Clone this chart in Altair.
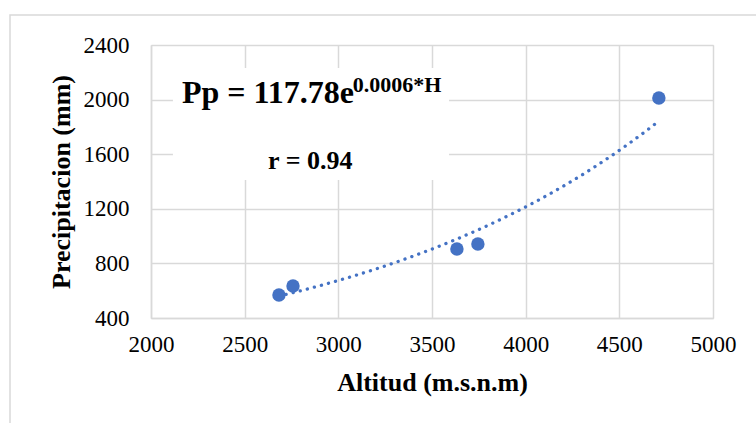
import altair as alt
import pandas as pd

# Data
altitud = [2683, 2758, 3633, 3745, 4711]
precip = [568, 634, 905, 942, 2012]

x_ticks = [2000, 2500, 3000, 3500, 4000, 4500, 5000]
y_ticks = [400, 800, 1200, 1600, 2000, 2400]

eq_main = ["Pp = 117.78e"]
eq_sup = ["0.0006*H"]
r_label = ["r = 0.94"]

df = pd.DataFrame({"h": altitud, "p": precip})

FONT = "Liberation Serif"
BLUE = "#4472C4"
GRID = "#d9d9d9"

xs = alt.Scale(domain=[2000, 5000], nice=False)
ys = alt.Scale(domain=[400, 2400], nice=False)

x_axis = alt.Axis(values=x_ticks, title="Altitud (m.s.n.m)", ticks=False, format="d",
                  labelFlush=False, labelOverlap=False,
                  labelFont=FONT, labelFontSize=23, labelColor="#000000",
                  labelPadding=15, domainColor=GRID, domainWidth=1.5,
                  gridColor=GRID, gridWidth=1.5,
                  titleFont=FONT, titleFontSize=26, titleFontWeight="bold",
                  titleColor="#000000", titleY=72, titleBaseline="alphabetic")
y_axis = alt.Axis(values=y_ticks, title="Precipitacion (mm)", ticks=False, format="d",
                  labelFlush=False, labelOverlap=False,
                  labelFont=FONT, labelFontSize=23, labelColor="#000000",
                  labelPadding=22, domainColor=GRID, domainWidth=1.5,
                  gridColor=GRID, gridWidth=1.5,
                  titleFont=FONT, titleFontSize=26, titleFontWeight="bold",
                  titleColor="#000000", titleX=-90, titleY=136.5,
                  titleBaseline="middle", titleAngle=-90)

base = alt.Chart(df)

# outer chart frame (decoration)
frame = alt.Chart(pd.DataFrame({"a": [0]})).mark_rect(
    filled=False, stroke=GRID, strokeWidth=1.5, clip=False
).encode(x=alt.value(-141), x2=alt.value(620), y=alt.value(-30), y2=alt.value(400))

points = base.mark_circle(size=180, opacity=1, color=BLUE).encode(
    x=alt.X("h:Q", scale=xs, axis=x_axis),
    y=alt.Y("p:Q", scale=ys, axis=y_axis),
)

trend = base.transform_calculate(lp="log(datum.p)").transform_regression(
    "h", "lp", method="poly", order=1
).transform_calculate(pp="exp(datum.lp)").mark_line(
    color=BLUE, strokeWidth=3.3, strokeDash=[0.1, 7.2], strokeCap="round"
).encode(x=alt.X("h:Q", scale=xs), y=alt.Y("pp:Q", scale=ys))

box = alt.Chart(pd.DataFrame({"x1": [2117], "x2": [3591], "y1": [2231], "y2": [1411]})).mark_rect(
    fill="white"
).encode(x=alt.X("x1:Q", scale=xs), x2="x2:Q", y=alt.Y("y1:Q", scale=ys), y2="y2:Q")

t_main = alt.Chart(pd.DataFrame({"t": eq_main, "x": [2165], "y": [1975]})).mark_text(
    font=FONT, fontSize=32, fontWeight="bold", align="left", baseline="alphabetic", color="#000000"
).encode(x=alt.X("x:Q", scale=xs), y=alt.Y("y:Q", scale=ys), text="t:N")

t_sup = alt.Chart(pd.DataFrame({"t": eq_sup, "x": [3077], "y": [2056]})).mark_text(
    font=FONT, fontSize=22, fontWeight="bold", align="left", baseline="alphabetic", color="#000000"
).encode(x=alt.X("x:Q", scale=xs), y=alt.Y("y:Q", scale=ys), text="t:N")

t_r = alt.Chart(pd.DataFrame({"t": r_label, "x": [2625], "y": [1492]})).mark_text(
    font=FONT, fontSize=26, fontWeight="bold", align="left", baseline="alphabetic", color="#000000"
).encode(x=alt.X("x:Q", scale=xs), y=alt.Y("y:Q", scale=ys), text="t:N")

chart = alt.layer(frame, box, trend, points, t_main, t_sup, t_r).properties(
    width=562, height=273,
    padding={"left": 151, "top": 45, "right": 43, "bottom": 105},
    autosize=alt.AutoSizeParams(type="none"),
).configure_view(stroke=None).configure(background="white")

chart.save("out.html", embed_options={"renderer": "svg", "actions": False})
